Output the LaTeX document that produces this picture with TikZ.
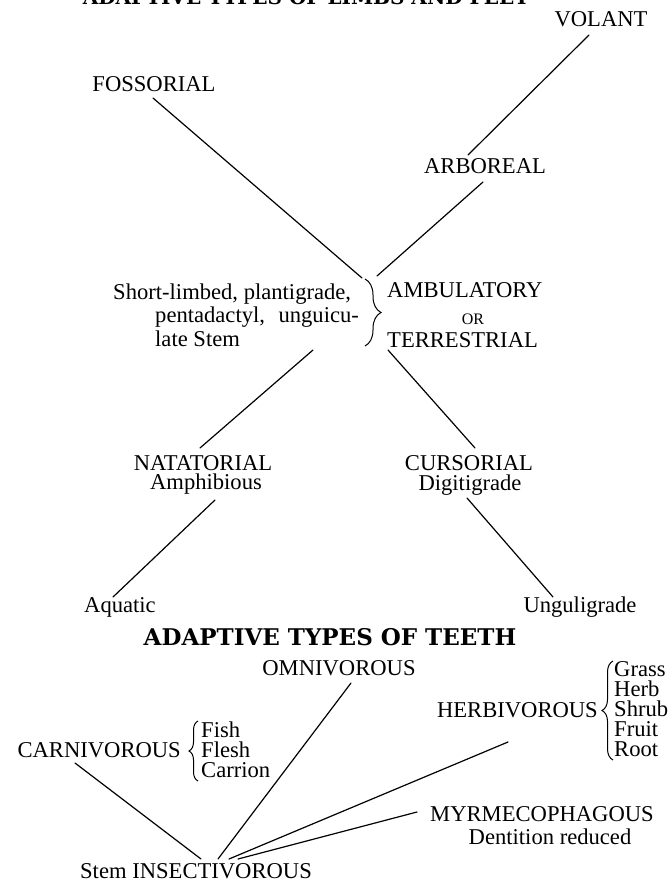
\documentclass[tikz,border=0pt]{standalone}
\usepackage{fontspec}
\setmainfont{Liberation Serif}
\newfontfamily\titlefont{DejaVu Serif}
\usetikzlibrary{decorations.pathreplacing}
\begin{document}
\begin{tikzpicture}[x=1pt,y=-1pt,
  lab/.style={font=\fontsize{22.6}{24}\selectfont, inner sep=0pt, anchor=base},
  labw/.style={lab, anchor=base west},
  labe/.style={lab, anchor=base east},
  smallcap/.style={font=\fontsize{16}{17}\selectfont, inner sep=0pt, anchor=base},
  ttl/.style={font=\titlefont\bfseries\fontsize{23}{24}\selectfont, inner sep=0pt, anchor=base},
  conn/.style={line width=1.2pt, line cap=round},
  brc/.style={line width=1pt, decorate, decoration={brace, amplitude=#1}}]
\useasboundingbox (0,0) rectangle (669,882);
\fill[white] (0,0) rectangle (669,882);

% ---------- limbs and feet ----------
\node[ttl, font=\titlefont\bfseries\fontsize{20}{21}\selectfont] (limbtitle) at (306,4.5) {ADAPTIVE TYPES OF LIMBS AND FEET};
\node[lab] (volant) at (601,27) {VOLANT};
\node[lab] (fossorial) at (154,92) {FOSSORIAL};
\node[lab] (arboreal) at (485,174) {ARBOREAL};

\node[labw] (stem1) at (113,299) {Short-limbed, plantigrade,};
\node[labw] (stem2) at (155,322.5) {pentadactyl,\hspace{0.6em}unguicu-};
\node[labw] (stem3) at (155,346) {late Stem};
\draw[brc=16pt] (365,279) -- (365,346) coordinate[pos=0.5] (stembrace);
\node[labw] (ambul) at (387,298) {AMBULATORY};
\node[smallcap] (orword) at (473,324.5) {OR};
\node[labw] (terr) at (387,347) {TERRESTRIAL};

\node[lab] (natat) at (203,470) {NATATORIAL};
\node[lab] (amphib) at (206,489.5) {Amphibious};
\node[lab] (cursor) at (469,470) {CURSORIAL};
\node[lab] (digit) at (470,490) {Digitigrade};
\node[lab] (aquatic) at (120,612) {Aquatic};
\node[lab] (ungul) at (580,612) {Unguligrade};

\coordinate (volS) at (589,35);
\coordinate (arbN) at (468,155);
\coordinate (arbS) at (483,182);
\coordinate (hubNE) at (377,276);
\coordinate (fosS) at (153,98);
\coordinate (hubNW) at (362,278);
\coordinate (hubSW) at (313,350);
\coordinate (hubSE) at (388,350);
\coordinate (natN) at (200,448);
\coordinate (curN) at (475,448);
\coordinate (amphS) at (215,500);
\coordinate (aquaN) at (113,597);
\coordinate (digS) at (467,498);
\coordinate (ungN) at (553,597);

\draw[conn] (volS) -- (arbN);
\draw[conn] (arbS) -- (hubNE);
\draw[conn] (fosS) -- (hubNW);
\draw[conn] (hubSW) -- (natN);
\draw[conn] (hubSE) -- (curN);
\draw[conn] (amphS) -- (aquaN);
\draw[conn] (digS) -- (ungN);

% ---------- teeth ----------
\node[ttl] (teethtitle) at (330,645) {ADAPTIVE TYPES OF TEETH};
\node[lab] (omni) at (339,675) {OMNIVOROUS};
\node[labe] (herb) at (598,717) {HERBIVOROUS};
\draw[brc=11pt] (613,760) -- (613,661);
\node[labw] (grass) at (614,676) {Grass};
\node[labw] (herbw) at (614,696) {Herb};
\node[labw] (shrub) at (614,716) {Shrub};
\node[labw] (fruit) at (614,736) {Fruit};
\node[labw] (root) at (614,756) {Root};

\node[labe] (carn) at (181,757) {CARNIVOROUS};
\draw[brc=9pt] (198,781) -- (198,721);
\node[labw] (fish) at (201,737) {Fish};
\node[labw] (flesh) at (201,757) {Flesh};
\node[labw] (carrion) at (201,777) {Carrion};

\node[lab] (myrm) at (542,821) {MYRMECOPHAGOUS};
\node[lab] (dent) at (550,844) {Dentition reduced};
\node[lab] (insect) at (196,878) {Stem INSECTIVOROUS};

\coordinate (carnS) at (75,763);
\coordinate (omniS) at (351,683);
\coordinate (herbS) at (508,742);
\coordinate (myrmW) at (417,812);
\coordinate (insC) at (201,859);
\coordinate (insO) at (218,859);
\coordinate (insH) at (229,859);
\coordinate (insM) at (238,859);

\draw[conn] (carnS) -- (insC);
\draw[conn] (omniS) -- (insO);
\draw[conn] (herbS) -- (insH);
\draw[conn] (myrmW) -- (insM);
\end{tikzpicture}
\end{document}
